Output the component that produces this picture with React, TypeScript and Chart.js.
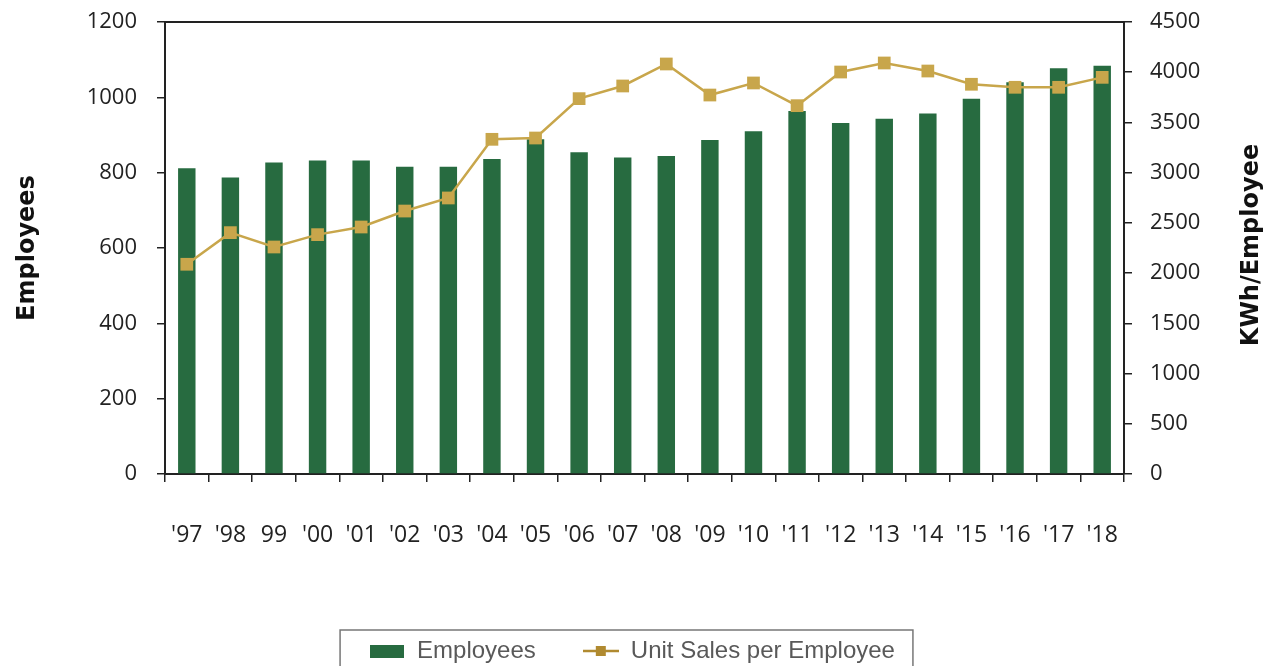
import React, { useEffect, useRef } from "react";
import { Chart, registerables } from "chart.js";

Chart.register(...registerables);

const years = ["'97", "'98", "99", "'00", "'01", "'02", "'03", "'04", "'05", "'06", "'07", "'08", "'09", "'10", "'11", "'12", "'13", "'14", "'15", "'16", "'17", "'18"];
const employees = [812, 787, 827, 832, 832, 816, 816, 836, 889, 854, 840, 844, 887, 910, 964, 932, 943, 957, 996, 1040, 1077, 1084];
const salesPerEmployee = [2088, 2403, 2260, 2383, 2459, 2618, 2748, 3332, 3345, 3737, 3863, 4082, 3773, 3893, 3667, 4002, 4092, 4012, 3880, 3850, 3850, 3949];
const leftTicks = { min: 0, max: 1200, step: 200 };
const rightTicks = { min: 0, max: 4500, step: 500 };

const GREEN = "#276b40";
const GOLD = "#c8a64b";
const GOLD_DARK = "#b08a30";
const AXIS = "#222222";

export default function App() {
  const ref = useRef<HTMLCanvasElement | null>(null);

  useEffect(() => {
    if (!ref.current) return;

    const barIcon = document.createElement("canvas");
    barIcon.width = 34;
    barIcon.height = 13;
    const bctx = barIcon.getContext("2d")!;
    bctx.fillStyle = GREEN;
    bctx.fillRect(0, 0, 34, 13);

    const lineIcon = document.createElement("canvas");
    lineIcon.width = 36;
    lineIcon.height = 12;
    const lctx = lineIcon.getContext("2d")!;
    lctx.strokeStyle = GOLD_DARK;
    lctx.lineWidth = 2.5;
    lctx.beginPath();
    lctx.moveTo(0, 6);
    lctx.lineTo(36, 6);
    lctx.stroke();
    lctx.fillStyle = GOLD_DARK;
    lctx.fillRect(13, 1, 10, 10);

    const icons = [barIcon, lineIcon];

    const framePlugin = {
      id: "frame",
      afterDraw(chart: any) {
        const { ctx, chartArea } = chart;
        ctx.save();
        ctx.strokeStyle = AXIS;
        ctx.lineWidth = 2;
        ctx.beginPath();
        ctx.moveTo(chartArea.left, chartArea.top);
        ctx.lineTo(chartArea.right, chartArea.top);
        ctx.stroke();

        ctx.fillStyle = "#111111";
        ctx.font = "bold 24px 'DejaVu Sans'";
        ctx.textAlign = "center";
        ctx.textBaseline = "middle";
        ctx.translate(1252, (chartArea.top + chartArea.bottom) / 2 - 3);
        ctx.rotate(-Math.PI / 2);
        ctx.fillText("KWh/Employee", 0, 0);
        ctx.restore();

        const hb = chart.legend && chart.legend.legendHitBoxes;
        if (hb && hb.length) {
          const first = hb[0];
          const last = hb[hb.length - 1];
          const left = first.left - 29;
          const right = last.left + last.width + 18;
          const top = first.top + first.height / 2 - 21;
          ctx.save();
          ctx.strokeStyle = "#777777";
          ctx.lineWidth = 1.5;
          ctx.strokeRect(left, top, right - left, 60);
          ctx.restore();
        }
      },
    };

    const plain = (v: any) => String(v);

    const chart = new Chart(ref.current, {
      type: "bar",
      data: {
        labels: years,
        datasets: [
          {
            type: "bar",
            label: "Employees",
            data: employees,
            backgroundColor: GREEN,
            borderWidth: 0,
            barPercentage: 0.4,
            categoryPercentage: 1,
            yAxisID: "y",
            order: 1,
          },
          {
            type: "line",
            label: "Unit Sales per Employee",
            data: salesPerEmployee,
            borderColor: GOLD,
            backgroundColor: GOLD,
            borderWidth: 2.5,
            pointStyle: "rect",
            pointRadius: 9,
            pointBorderWidth: 0,
            pointBackgroundColor: GOLD,
            tension: 0,
            yAxisID: "y1",
            order: 0,
          } as any,
        ],
      },
      options: {
        animation: false,
        responsive: true,
        maintainAspectRatio: false,
        layout: { padding: { top: 22, right: 15, left: 0, bottom: 0 } },
        plugins: {
          tooltip: { enabled: false },
          legend: {
            position: "bottom",
            labels: {
              usePointStyle: true,
              pointStyleWidth: 36,
              padding: 47,
              color: "#595959",
              font: { family: "'Liberation Sans', Arial, sans-serif", size: 24 },
              sort: (a: any, b: any) => a.datasetIndex - b.datasetIndex,
              generateLabels: (c: any) =>
                (Chart.defaults.plugins.legend.labels.generateLabels as any)(c).map((l: any) => ({
                  ...l,
                  pointStyle: icons[l.datasetIndex],
                  lineWidth: 0,
                  strokeStyle: "transparent",
                })),
            },
          },
        },
        scales: {
          x: {
            offset: true,
            grid: {
              display: true,
              offset: true,
              drawOnChartArea: false,
              drawTicks: true,
              tickLength: 8,
              color: AXIS,
              lineWidth: 1.5,
            },
            border: { display: true, color: AXIS, width: 2 },
            ticks: {
              color: "#222222",
              font: { family: "'Open Sans', sans-serif", size: 23 },
              padding: 40,
              maxRotation: 0,
              autoSkip: false,
            },
            afterFit: (scale: any) => {
              scale.height = 118;
            },
          },
          y: {
            position: "left",
            min: leftTicks.min,
            max: leftTicks.max,
            grid: {
              display: true,
              drawOnChartArea: false,
              drawTicks: true,
              tickLength: 8,
              color: AXIS,
              lineWidth: 1.5,
            },
            border: { display: true, color: AXIS, width: 2 },
            ticks: {
              stepSize: leftTicks.step,
              color: "#222222",
              font: { family: "'Open Sans', sans-serif", size: 22 },
              padding: 20,
              callback: plain,
            },
            title: {
              display: true,
              text: "Employees",
              color: "#111111",
              font: { family: "'DejaVu Sans', sans-serif", size: 24, weight: "bold" },
              padding: { top: 13, bottom: 0 },
            },
            afterFit: (scale: any) => {
              scale.width = 165;
              scale.paddingTop = 10;
              scale.paddingBottom = 10;
            },
          },
          y1: {
            position: "right",
            min: rightTicks.min,
            max: rightTicks.max,
            grid: {
              display: true,
              drawOnChartArea: false,
              drawTicks: true,
              tickLength: 8,
              color: AXIS,
              lineWidth: 1.5,
            },
            border: { display: true, color: AXIS, width: 2 },
            ticks: {
              stepSize: rightTicks.step,
              color: "#222222",
              font: { family: "'Open Sans', sans-serif", size: 22 },
              padding: 18,
              callback: plain,
            },
            afterFit: (scale: any) => {
              scale.width = 140;
              scale.paddingTop = 10;
              scale.paddingBottom = 10;
            },
          },
        },
      } as any,
      plugins: [framePlugin],
    });

    return () => chart.destroy();
  }, []);

  return (
    <div style={{ position: "absolute", left: 0, top: 0, width: 1279, height: 666, overflow: "hidden", background: "#ffffff" }}>
      <div style={{ position: "relative", width: 1279, height: 673 }}>
        <canvas ref={ref} />
      </div>
    </div>
  );
}
